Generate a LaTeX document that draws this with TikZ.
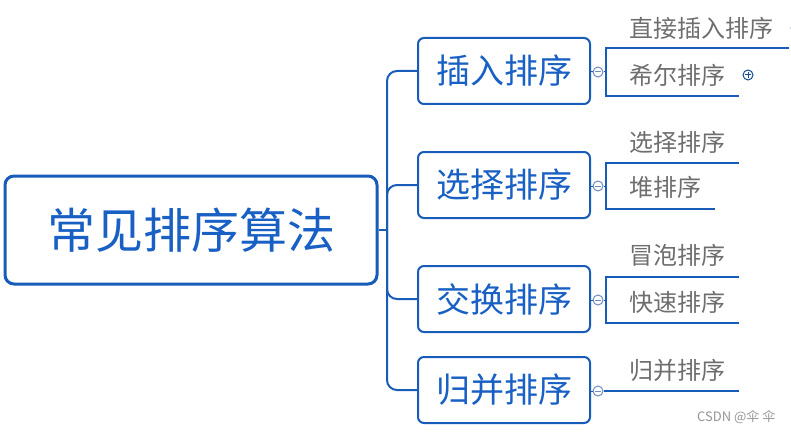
\documentclass[tikz,border=0pt]{standalone}
\usepackage{fontspec}
\newfontfamily\cjk{Noto Sans CJK SC}
\definecolor{mblue}{RGB}{22,92,184}
\definecolor{tblue}{RGB}{24,96,196}
\definecolor{sgrey}{RGB}{110,110,110}
\definecolor{cgrey}{RGB}{110,140,190}
\definecolor{wgrey}{RGB}{150,150,150}
\tikzset{
  rootbox/.style={draw=mblue,line width=3pt,rounded corners=9pt,minimum width=372pt,minimum height=108pt,inner sep=0pt,font=\cjk\fontsize{48}{50}\selectfont,text=tblue},
  childbox/.style={draw=mblue,line width=2pt,rounded corners=6pt,minimum width=172pt,minimum height=66pt,inner sep=0pt,font=\cjk\fontsize{34}{36}\selectfont,text=tblue},
  subtext/.style={anchor=west,inner sep=0pt,font=\cjk\fontsize{24}{26}\selectfont,text=sgrey},
  conn/.style={draw=mblue,line width=2pt,rounded corners=10pt},
  subline/.style={draw=mblue,line width=2.5pt},
  mk/.style={circle,draw=cgrey,fill=white,line width=1pt,minimum size=10pt,inner sep=0pt},
  mkline/.style={draw=cgrey,line width=1pt},
}
\begin{document}
\begin{tikzpicture}[x=1pt,y=-1pt]
\clip (0,0) rectangle (791,433);
\useasboundingbox (0,0) rectangle (791,433);
\fill[white] (0,0) rectangle (791,433);

% root and children
\node[rootbox] (r) at (191,230) {常见排序算法};
\node[childbox] (b1) at (504,71) {插入排序};
\node[childbox] (b2) at (504,185) {选择排序};
\node[childbox] (b3) at (504,299) {交换排序};
\node[childbox] (b4) at (504,390) {归并排序};

\coordinate (sp) at (387,230);
\draw[conn] (r.east) -- (sp);
\draw[conn] (b1.west) -| (sp) |- (b4.west);
\draw[conn] (b2.west) -| (sp);
\draw[conn] (b3.west) -| (sp);

% collapse markers
\node[mk] (c1) at (598,72) {};
\node[mk] (c2) at (598,186) {};
\node[mk] (c3) at (598,300) {};
\node[mk] (c4) at (598,391) {};
\foreach \c in {c1,c2,c3,c4}{
  \draw[mkline] ([xshift=-3pt]\c.center) -- ([xshift=3pt]\c.center);
}
\draw[subline,line width=1pt] (b1.east |- c1) -- (c1.west);
\draw[subline,line width=1pt] (b2.east |- c2) -- (c2.west);
\draw[subline,line width=1pt] (b3.east |- c3) -- (c3.west);
\draw[subline,line width=1pt] (b4.east |- c4) -- (c4.west);

% group 1
\coordinate (g1) at (606,72);
\coordinate (t1s) at (606,48); \coordinate (t1e) at (789,48);
\coordinate (u1s) at (606,96); \coordinate (u1e) at (739,96);
\draw[subline,line width=1pt] (c1.east) -- (g1);
\draw[subline] (t1e) -- (t1s) -- (u1s) -- (u1e);
\node[subtext] (s11) at (629,28) {直接插入排序};
\node[subtext] (s12) at (629,75) {希尔排序};
\node[mk,draw=mblue!80!black] (p1) at (748,75) {};
\draw[mkline,draw=mblue!80!black] ([xshift=-3pt]p1.center) -- ([xshift=3pt]p1.center);
\draw[mkline,draw=mblue!80!black] ([yshift=-3pt]p1.center) -- ([yshift=3pt]p1.center);
\node[mk] (e1) at (796,28) {};

% group 2
\coordinate (g2) at (606,186);
\coordinate (t2s) at (606,163); \coordinate (t2e) at (739,163);
\coordinate (u2s) at (606,209); \coordinate (u2e) at (715,209);
\draw[subline,line width=1pt] (c2.east) -- (g2);
\draw[subline] (t2e) -- (t2s) -- (u2s) -- (u2e);
\node[subtext] (s21) at (629,142) {选择排序};
\node[subtext] (s22) at (629,187) {堆排序};

% group 3
\coordinate (g3) at (606,300);
\coordinate (t3s) at (606,277); \coordinate (t3e) at (739,277);
\coordinate (u3s) at (606,323); \coordinate (u3e) at (739,323);
\draw[subline,line width=1pt] (c3.east) -- (g3);
\draw[subline] (t3e) -- (t3s) -- (u3s) -- (u3e);
\node[subtext] (s31) at (629,255) {冒泡排序};
\node[subtext] (s32) at (629,302) {快速排序};

% group 4
\coordinate (u4e) at (739,391);
\draw[subline] (c4.east) -- (u4e);
\node[subtext] (s41) at (629,370) {归并排序};

% watermark
\node[anchor=west,inner sep=0pt,font=\cjk\fontsize{13}{14}\selectfont,text=wgrey] (wm) at (697,417) {CSDN @伞 伞};
\end{tikzpicture}
\end{document}
